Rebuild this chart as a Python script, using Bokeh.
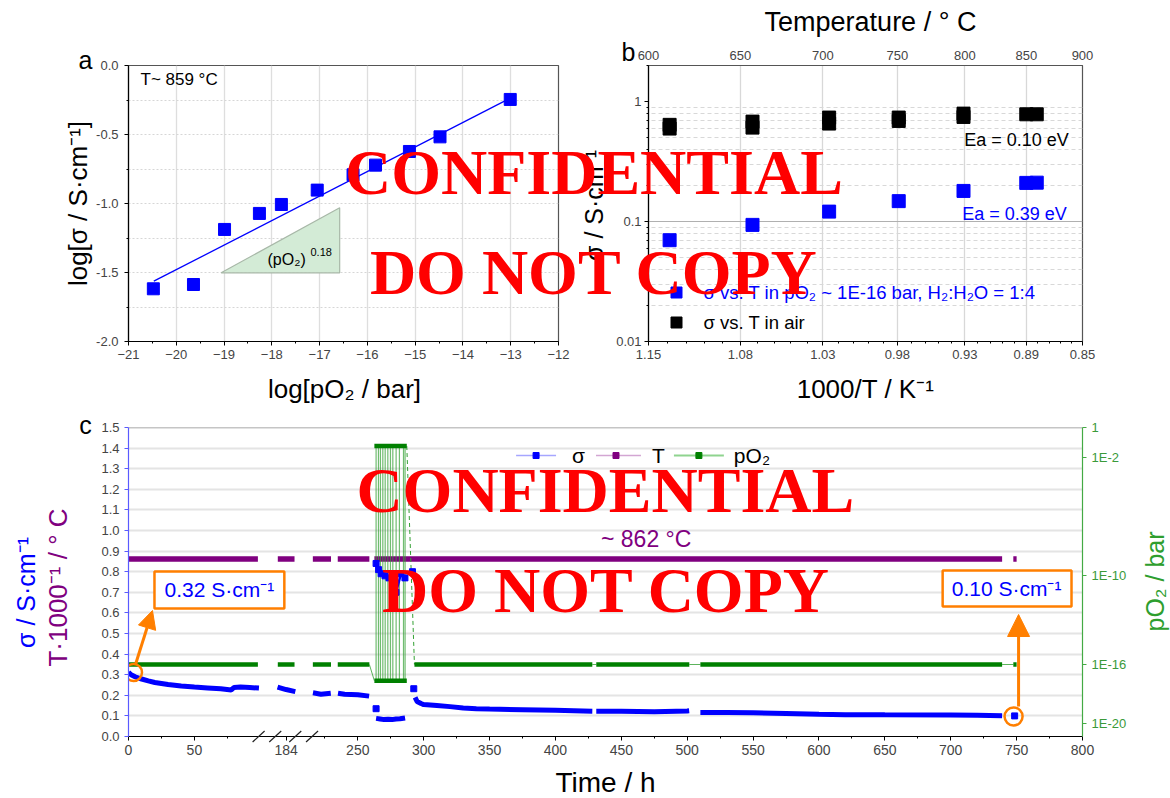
import math
from bokeh.plotting import figure
from bokeh.models import (Label, Arrow, NormalHead, FixedTicker, LinearAxis, LogAxis,
                          Range1d, LogScale, Span, NumeralTickFormatter, GridBox)
from bokeh.embed import file_html
from bokeh.resources import INLINE

nan = float("nan")
SANS = "Liberation Sans"
SERIF = "Liberation Serif"
BLUE = "#0000ff"
PURPLE = "#800080"
GREEN = "#008000"
LGREEN = "#33a033"
ORANGE = "#ff7f00"

# ---------------- panel a data ----------------
a_log_po2 = [-20.48, -19.64, -18.99, -18.26, -17.80, -17.05, -16.30, -15.83, -15.12, -14.48, -13.01]
a_log_sigma = [-1.618, -1.587, -1.188, -1.072, -1.007, -0.903, -0.792, -0.722, -0.623, -0.517, -0.246]
a_fit_po2 = [-20.47, -13.06]
a_fit_sigma = [-1.563, -0.246]
a_tri_po2 = [-19.06, -16.58, -16.58]
a_tri_sigma = [-1.502, -1.502, -1.031]
a_x_ticks = [-21, -20, -19, -18, -17, -16, -15, -14, -13, -12]
a_y_ticks = [-2.0, -1.5, -1.0, -0.5, 0.0]

# ---------------- panel b data ----------------
b_temp_ticks = [600, 650, 700, 750, 800, 850, 900]
b_inv_labels = ["1.15", "1.08", "1.03", "0.98", "0.93", "0.89", "0.85"]
b_air_T = [611, 611, 657, 657, 704, 704, 751, 751, 799, 799, 850, 859]
b_air_sigma = [0.640, 0.596, 0.681, 0.607, 0.736, 0.656, 0.736, 0.690, 0.794, 0.745, 0.784, 0.784]
b_h2_T = [611, 657, 704, 751, 799, 850, 859]
b_h2_sigma = [0.0699, 0.0938, 0.121, 0.148, 0.180, 0.210, 0.211]

# ---------------- panel c data ----------------
c_sigma_t = [0, 2, 5, 10, 15, 20, 30, 40, 50, 60, 70, 78, 80, 85, 92, 99, nan,
             177.5, 184, 191, nan,
             216, 222, 229.5, nan,
             235, 240, 250, 258.6, nan,
             293.5, 295, 298, 300, 310, 320, 330, 340, 350, 375, 400, 428, nan,
             431, 450, 475, 500, 501.5, nan,
             510, 530, 550, 575, 600, 620, 650, 700, 720, 739]
c_sigma = [0.312, 0.300, 0.290, 0.279, 0.270, 0.262, 0.252, 0.245, 0.240, 0.236, 0.232, 0.226, 0.238, 0.240, 0.238, 0.235, nan,
           0.240, 0.228, 0.218, nan,
           0.212, 0.205, 0.210, nan,
           0.210, 0.205, 0.203, 0.196, nan,
           0.190, 0.170, 0.160, 0.155, 0.150, 0.145, 0.138, 0.135, 0.133, 0.130, 0.127, 0.123, nan,
           0.122, 0.122, 0.120, 0.124, 0.125, nan,
           0.117, 0.117, 0.115, 0.112, 0.108, 0.106, 0.105, 0.104, 0.103, 0.101]
c_sigma_pts_t = [263.9, 291.5, 292.5, 748.5]
c_sigma_pts = [0.135, 0.80, 0.232, 0.100]
c_sigma_low_t = [263.9, 267, 270, 273, 276, 279, 282, 285.9]
c_sigma_low = [0.088, 0.085, 0.082, 0.084, 0.082, 0.085, 0.086, 0.090]
c_sigma_high_t = [263.9, 265.8, 267.7, 270.7, 273.7, 276.8, 279.0, 282.8, 285.8]
c_sigma_high = [0.84, 0.81, 0.79, 0.78, 0.77, 0.74, 0.70, 0.79, 0.77]

c_T_t = [0, 98.2, nan, 177.7, 190.4, nan, 215.9, 229.7, nan, 234.8, 258.8, nan, 262.6, 739, nan, 747.5, 750]
c_T_C = [862, 862, nan, 862, 862, nan, 862, 862, nan, 862, 862, nan, 862, 862, nan, 862, 862]

c_po2_t = [0, 98.2, nan, 177.7, 190.4, nan, 215.9, 229.7, nan, 234.8, 258.8, nan,
           293, 428, nan, 431, 501.6, nan, 510, 739, nan, 747.5, 750]
c_po2 = [1e-16, 1e-16, nan, 1e-16, 1e-16, nan, 1e-16, 1e-16, nan, 1e-16, 1e-16, nan,
         1e-16, 1e-16, nan, 1e-16, 1e-16, nan, 1e-16, 1e-16, nan, 1e-16, 1e-16]
c_po2_link_t = [258.8, 262.6, nan, 428, 431, nan, 501.6, 510, nan, 739, 747.5]
c_po2_link = [1e-16, 8e-18, nan, 1e-16, 1e-16, nan, 1e-16, 1e-16, nan, 1e-16, 1e-16]
c_po2_return_t = [287.2, 293]
c_po2_return = [0.056, 1e-16]
c_po2_switch_t = [263.9, 265.7, 267.2, 269.0, 270.8, 272.8, 274.8, 276.6, 279.1, 281.6, 284.7, 285.9]
c_po2_hi_span_t = [262.6, 287.2]
c_po2_high = 0.056
c_po2_low = 8e-18

c_x_ticks_h = [0, 50, 184, 250, 300, 350, 400, 450, 500, 550, 600, 650, 700, 750, 800]
c_x_minor_h = [25, 75, 225, 275, 325, 375, 425, 475, 525, 575, 625, 675, 725, 775]
c_y_ticks = [0.0, 0.1, 0.2, 0.3, 0.4, 0.5, 0.6, 0.7, 0.8, 0.9, 1.0, 1.1, 1.2, 1.3, 1.4, 1.5]
c_po2_ticks = [1e-20, 1e-16, 1e-10, 1e-2, 1]
c_po2_labels = ["1E-20", "1E-16", "1E-10", "1E-2", "1"]

# broken time axis: (t_low, t_high, shift) -> axis coordinate = t - shift
c_axis_segments = [(0, 110, 0.0), (170, 200, 64.4), (205, 800, 76.0)]
c_break_marks = [99.4, 112.0, 127.2, 139.9]


def c_axis(t):
    if t != t:
        return nan
    for lo, hi, shift in c_axis_segments:
        if lo <= t <= hi:
            return t - shift
    return nan


def b_inv(T):
    return 1000.0 / (T + 273.15)


def overrides(ticks, labels):
    d = {}
    for t, l in zip(ticks, labels):
        d[t] = l
        d[str(t)] = l
    return d


def style_axis(ax, size="13px"):
    ax.major_label_text_font = SANS
    ax.major_label_text_font_size = size
    ax.major_tick_in = 0
    ax.major_tick_out = 4
    ax.minor_tick_in = 0
    ax.minor_tick_out = 2
    ax.axis_line_width = 1.2


def lab(p, x, y, text, size, color="black", font=SANS, align="center", baseline="middle",
        angle=0.0, style="normal"):
    p.add_layout(Label(x=x, y=y, text=text, text_font_size=f"{size}px", text_color=color,
                       text_font=font, text_align=align, text_baseline=baseline,
                       angle=angle, text_font_style=style))


# page-pixel -> data helpers (for placing annotation texts inside frames)
def a_px(px): return -21 + (px - 128) * 9 / 430
def a_py(py): return -(py - 65) * 2 / 276

B_LO, B_HI = b_inv(600), b_inv(900)
def b_px(px): return B_LO + (px - 648) / 434 * (B_HI - B_LO)
def b_py(py): return 10 ** (-2 + (341 - py) / 276 * math.log10(200))

def c_px(px): return (px - 127) * 724 / 955
def c_py(py): return (736 - py) * 1.5 / 309


common = dict(output_backend="svg", toolbar_location=None, background_fill_color="white",
              border_fill_color="white")

# ======================= panel a =======================
pa = figure(width=585, height=400, x_range=Range1d(-21, -12), y_range=Range1d(-2, 0),
            min_border_left=128, min_border_right=27, min_border_top=65, min_border_bottom=59,
            **common)
pa.title.visible = False
pa.outline_line_color = "#555555"
pa.outline_line_width = 1.2
pa.xaxis.ticker = FixedTicker(ticks=a_x_ticks, minor_ticks=[x + 0.5 for x in a_x_ticks[:-1]])
pa.yaxis.ticker = FixedTicker(ticks=a_y_ticks, minor_ticks=[-1.75, -1.25, -0.75, -0.25])
pa.yaxis.formatter = NumeralTickFormatter(format="0.0")
style_axis(pa.xaxis[0]); style_axis(pa.yaxis[0])
pa.xaxis.major_label_standoff = 4
pa.yaxis.major_label_standoff = 6
pa.xgrid.ticker = FixedTicker(ticks=a_x_ticks[1:-1])
pa.xgrid.grid_line_color = "#dedede"
pa.xgrid.grid_line_width = 1.3
pa.ygrid.ticker = FixedTicker(ticks=[-1.75, -1.5, -1.25, -1.0, -0.75, -0.5, -0.25])
pa.ygrid.grid_line_color = "#d6d6d6"
pa.ygrid.grid_line_dash = "2 2"

pa.patch(a_tri_po2, a_tri_sigma, fill_color="#d3ebd6", line_color="#a8b8a8", line_width=1.2)
pa.line(a_fit_po2, a_fit_sigma, color=BLUE, line_width=1.3)
pa.scatter(a_log_po2, a_log_sigma, marker="square", size=12, color=BLUE)

lab(pa, a_px(140), a_py(79), "T~ 859 °C", 17, align="left")
lab(pa, a_px(267), a_py(259), "(pO₂)", 16, align="left")
lab(pa, a_px(310), a_py(251), "0.18", 11, align="left")

# ======================= panel b =======================
b_ticks = [b_inv(T) for T in b_temp_ticks]
pb = figure(width=585, height=400, x_range=Range1d(B_LO, B_HI), y_range=Range1d(0.01, 2),
            y_axis_type="log",
            min_border_left=63, min_border_right=88, min_border_top=65, min_border_bottom=59,
            **common)
pb.title.visible = False
pb.outline_line_color = "#555555"
pb.outline_line_width = 1.2
b_minor = [b_inv(T) for T in range(610, 900, 10) if T % 50 != 0]
pb.xaxis.ticker = FixedTicker(ticks=b_ticks, minor_ticks=b_minor)
pb.xaxis.major_label_overrides = overrides(b_ticks, b_inv_labels)
b_y_minor = [0.02, 0.03, 0.04, 0.05, 0.06, 0.07, 0.08, 0.09,
             0.2, 0.3, 0.4, 0.5, 0.6, 0.7, 0.8, 0.9, 2]
pb.yaxis.ticker = FixedTicker(ticks=[0.01, 0.1, 1], minor_ticks=b_y_minor)
pb.yaxis.major_label_overrides = overrides([0.01, 0.1, 1], ["0.01", "0.1", "1"])
style_axis(pb.xaxis[0]); style_axis(pb.yaxis[0])
pb.xaxis.major_label_standoff = 4
pb.yaxis.major_label_standoff = 3
top = LinearAxis(ticker=FixedTicker(ticks=b_ticks),
                 major_label_overrides=overrides(b_ticks, [str(T) for T in b_temp_ticks]))
style_axis(top)
top.major_tick_out = 0
top.minor_tick_out = 0
top.major_label_standoff = 6
top.axis_line_color = "#555555"
pb.add_layout(top, "above")
pb.xgrid.ticker = FixedTicker(ticks=b_ticks[1:-1])
pb.xgrid.grid_line_color = "#d8d8d8"
pb.xgrid.grid_line_width = 1.3
pb.ygrid.ticker = FixedTicker(ticks=[0.1], minor_ticks=b_y_minor)
pb.ygrid.grid_line_color = "#b0b0b0"
pb.ygrid.minor_grid_line_color = "#d8d8d8"
pb.ygrid.minor_grid_line_dash = "4 3"

pb.scatter([b_inv(T) for T in b_h2_T], b_h2_sigma, marker="square", size=13, color=BLUE)
pb.scatter([b_inv(T) for T in b_air_T], b_air_sigma, marker="square", size=13, color="black")

# legend
pb.scatter([b_px(676)], [b_py(292)], marker="square", size=11, color=BLUE)
pb.scatter([b_px(676)], [b_py(322)], marker="square", size=11, color="black")
lab(pb, b_px(703), b_py(292), "σ vs. T in pO₂ ~ 1E-16 bar, H₂:H₂O = 1:4", 18.5, color=BLUE, align="left")
lab(pb, b_px(703), b_py(322), "σ vs. T in air", 18.5, align="left")
lab(pb, b_px(1016), b_py(139), "Ea = 0.10 eV", 18)
lab(pb, b_px(1014), b_py(213), "Ea = 0.39 eV", 18, color=BLUE)

# ======================= panel c =======================
pc = figure(width=1170, height=398, x_range=Range1d(0, 724), y_range=Range1d(0, 1.5),
            min_border_left=127, min_border_right=88, min_border_top=27, min_border_bottom=62,
            **common)
pc.title.visible = False
pc.outline_line_color = None
pc.extra_y_ranges = {"po2": Range1d(10 ** -20.86, 1)}
pc.extra_y_scales = {"po2": LogScale()}

c_ticks_disp = [c_axis(t) for t in c_x_ticks_h]
pc.xaxis.ticker = FixedTicker(ticks=c_ticks_disp, minor_ticks=[c_axis(t) for t in c_x_minor_h])
pc.xaxis.major_label_overrides = overrides(c_ticks_disp, [str(t) for t in c_x_ticks_h])
style_axis(pc.xaxis[0], "14px")
pc.xaxis.major_label_standoff = 4
pc.yaxis.ticker = FixedTicker(ticks=c_y_ticks)
pc.yaxis.formatter = NumeralTickFormatter(format="0.0")
style_axis(pc.yaxis[0])
pc.yaxis.major_label_standoff = 5
pc.yaxis.axis_line_color = "#5a5aff"
pc.yaxis.major_tick_line_color = "#5a5aff"
pc.xgrid.visible = False
pc.ygrid.ticker = FixedTicker(ticks=c_y_ticks[1:-1])
pc.ygrid.grid_line_color = "#e4e4e4"
pc.ygrid.grid_line_width = 2
pc.add_layout(Span(location=1.5, dimension="width", line_color="#8c8c8c", line_width=1.5))

right = LogAxis(y_range_name="po2", ticker=FixedTicker(ticks=c_po2_ticks),
                major_label_overrides=overrides(c_po2_ticks, c_po2_labels))
style_axis(right)
right.major_label_standoff = 5
right.axis_line_color = "#44aa44"
right.major_tick_line_color = "#44aa44"
right.major_label_text_color = "#3a9a3a"
pc.add_layout(right, "right")

# T line
pc.line([c_axis(t) for t in c_T_t], [v / 1000 for v in c_T_C], color=PURPLE, line_width=5.5)
# pO2
pc.segment(x0=[c_axis(t) for t in c_po2_switch_t], y0=[c_po2_low] * len(c_po2_switch_t),
           x1=[c_axis(t) for t in c_po2_switch_t], y1=[c_po2_high] * len(c_po2_switch_t),
           y_range_name="po2", color=LGREEN, line_width=1.2, alpha=0.7)
pc.line([c_axis(t) for t in c_po2_link_t], c_po2_link, y_range_name="po2", color=LGREEN,
        line_width=1, alpha=0.8)
pc.line([c_axis(t) for t in c_po2_return_t], c_po2_return, y_range_name="po2", color=LGREEN,
        line_width=1, line_dash="4 3")
pc.line([c_axis(t) for t in c_po2_hi_span_t], [c_po2_high] * 2, y_range_name="po2",
        color=GREEN, line_width=4.5)
pc.line([c_axis(t) for t in c_po2_hi_span_t], [c_po2_low] * 2, y_range_name="po2",
        color=GREEN, line_width=4.5)
pc.line([c_axis(t) for t in c_po2_t], c_po2, y_range_name="po2", color=GREEN, line_width=4.5)
# sigma
pc.line([c_axis(t) for t in c_sigma_t], c_sigma, color=BLUE, line_width=5)
pc.line([c_axis(t) for t in c_sigma_low_t], c_sigma_low, color=BLUE, line_width=5)
pc.line([c_axis(t) for t in c_sigma_high_t], c_sigma_high, color=BLUE, line_width=2.5)
pc.scatter([c_axis(t) for t in c_sigma_high_t], c_sigma_high, marker="square", size=6, color=BLUE)
pc.scatter([c_axis(t) for t in c_sigma_pts_t], c_sigma_pts, marker="square", size=6, color=BLUE)

# legend
ly = c_py(455)
pc.line([c_px(515), c_px(555)], [ly, ly], color=BLUE, alpha=0.35, line_width=1.5)
pc.scatter([c_px(535)], [ly], marker="square", size=6, color=BLUE)
pc.line([c_px(595), c_px(640)], [ly, ly], color=PURPLE, alpha=0.35, line_width=1.5)
pc.scatter([c_px(615)], [ly], marker="square", size=6, color=PURPLE)
pc.line([c_px(673), c_px(723)], [ly, ly], color="#8fd48f", line_width=2)
pc.scatter([c_px(698)], [ly], marker="square", size=6, color=GREEN)
lab(pc, c_px(571), ly, "σ", 21, align="left")
lab(pc, c_px(651), ly, "T", 21, align="left")
lab(pc, c_px(733), ly, "pO₂", 21, align="left")

# annotations
pc.quad(left=c_px(153), right=c_px(283), top=c_py(571), bottom=c_py(608),
        fill_color="white", line_color=ORANGE, line_width=2.5)
pc.quad(left=c_px(942), right=c_px(1071), top=c_py(570), bottom=c_py(606),
        fill_color="white", line_color=ORANGE, line_width=2.5)
lab(pc, c_px(218), c_py(589), "0.32 S·cm⁻¹", 21, color=BLUE)
lab(pc, c_px(1006), c_py(588), "0.10 S·cm⁻¹", 21, color=BLUE)
pc.add_layout(Arrow(x_start=c_px(134), y_start=c_py(664), x_end=c_px(151), y_end=c_py(610),
                    end=NormalHead(size=18, fill_color=ORANGE, line_color=ORANGE),
                    line_color=ORANGE, line_width=3))
pc.add_layout(Arrow(x_start=c_px(1018), y_start=c_py(706), x_end=c_px(1018), y_end=c_py(614),
                    end=NormalHead(size=22, fill_color=ORANGE, line_color=ORANGE),
                    line_color=ORANGE, line_width=3))
pc.scatter([c_px(132)], [c_py(672)], marker="circle", size=17, fill_color=None,
           line_color=ORANGE, line_width=2.5)
pc.scatter([c_px(1013)], [c_py(716)], marker="circle", size=18, fill_color=None,
           line_color=ORANGE, line_width=2.5)
lab(pc, c_px(600), c_py(538), "~ 862 °C", 23, color=PURPLE, align="left")

# ======================= page overlay (texts outside the plot frames) =======================
po = figure(width=1170, height=798, x_range=Range1d(0, 1170), y_range=Range1d(798, 0),
            x_axis_location=None, y_axis_location=None, min_border=0,
            output_backend="svg", toolbar_location=None,
            background_fill_color=None, border_fill_color=None, outline_line_color=None)
po.title.visible = False
po.grid.visible = False
po.frame_align = False

# axis-break marks of panel c's time axis
for d in c_break_marks:
    xm = 127 + d * 955 / 724
    po.add_layout(Arrow(x_start=xm - 6, y_start=741.5, x_end=xm + 6, y_end=730.5,
                        end=None, line_color="#222222", line_width=1.2))

# panel a texts
lab(po, 85, 59, "a", 25)
lab(po, 344, 388, "log[pO₂ / bar]", 26)
lab(po, 77, 203, "log[σ / S·cm⁻¹]", 26, angle=math.pi / 2)
# panel b texts
lab(po, 628, 51, "b", 25)
lab(po, 870, 21, "Temperature / ° C", 27)
lab(po, 865, 388, "1000/T / K⁻¹", 26)
lab(po, 593, 205, "σ / S·cm⁻¹", 25, angle=math.pi / 2)
# panel c texts
lab(po, 85, 424, "c", 25)
lab(po, 605, 782, "Time / h", 28)
lab(po, 25, 592, "σ / S·cm⁻¹", 25, color=BLUE, angle=math.pi / 2)
lab(po, 57, 587, "T·1000⁻¹ / ° C", 26, color=PURPLE, angle=math.pi / 2)
lab(po, 1154, 581, "pO₂ / bar", 25, color="#2e9e2e", angle=math.pi / 2)

# watermark, kept as in the reference
for text, x, base in [("CONFIDENTIAL", 593.4, 171.7), ("DO NOT COPY", 593.4, 271.7),
                      ("CONFIDENTIAL", 604.8, 490), ("DO NOT COPY", 605.6, 590)]:
    po.add_layout(Label(x=x, y=base, text=text, text_font=SERIF, text_font_style="bold",
                        text_font_size="64px", text_color="#ff0000", text_align="center",
                        text_baseline="alphabetic"))

layout = GridBox(children=[(pa, 0, 0), (pb, 0, 1), (pc, 1, 0, 1, 2), (po, 0, 0, 2, 2)],
                 spacing=0)
open("out.html", "w").write(file_html(layout, INLINE))
